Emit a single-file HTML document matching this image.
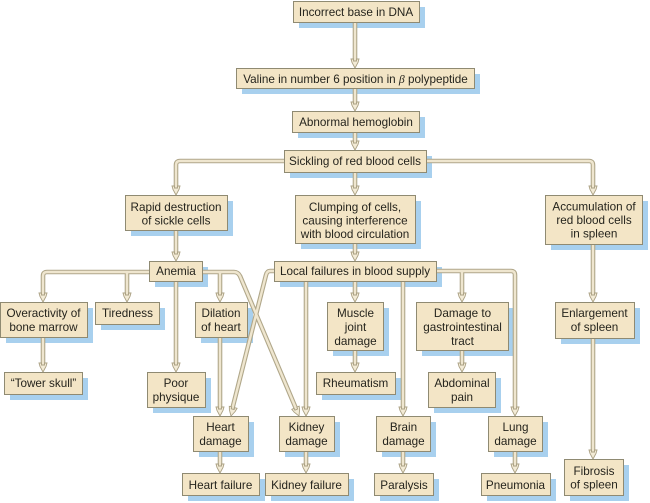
<!DOCTYPE html>
<html>
<head>
<meta charset="utf-8">
<style>
html,body{margin:0;padding:0;background:#fff;width:650px;height:503px;overflow:hidden}
svg{display:block;filter:blur(0.35px)}
text{font-family:"Liberation Sans",sans-serif;font-size:11.7px;fill:#25241d;text-anchor:middle}
.s rect{fill:#a8d0ee}
.b rect{fill:#f3e5c6;stroke:#8f8a72;stroke-width:1}
</style>
</head>
<body>
<svg width="650" height="503" viewBox="0 0 650 503" xmlns="http://www.w3.org/2000/svg">
<defs>
<path id="c" d="M355 22V62M355 88V104M355 132V143M355 172V188M355 243V254
M284 161H180Q176 161 176 165V188
M426 161H589Q593 161 593 165V188
M176 230V254
M149 272H47Q43 272 43 276V295
M127 272V295
M176 281V365
M202 272H220V295
M202 272H234Q238 272 240 276L297 411
M274 271H270Q267 271 266 275L232 410
M306 281V410
M306 451V466
M220 337V410
M220 451V466
M43 337V365
M355 281V295
M355 350V365
M403 281V410
M403 451V466
M436 271H462V295
M462 350V365
M436 271H511Q515 271 515 275V410
M515 451V466
M593 244V295
M593 338V452"/>
<path id="a" d="M-1.500 -9H-4L-3 -5.500L0 0L3 -5.500L4 -9H1.500V-7H-1.500Z"/>
</defs>
<g class="s">
<rect x="299" y="7" width="126" height="21"/>
<rect x="242" y="74" width="238" height="20"/>
<rect x="298" y="117" width="127" height="21"/>
<rect x="290" y="156" width="142" height="22"/>
<rect x="131" y="201" width="102" height="35"/>
<rect x="301" y="201" width="120" height="48"/>
<rect x="551" y="201" width="97" height="49"/>
<rect x="155" y="267" width="53" height="20"/>
<rect x="280" y="267" width="162" height="20"/>
<rect x="6" y="308" width="87" height="35"/>
<rect x="101" y="308" width="64" height="22"/>
<rect x="201" y="308" width="52" height="35"/>
<rect x="10" y="378" width="78" height="22"/>
<rect x="153" y="378" width="58" height="35"/>
<rect x="199" y="422" width="55" height="35"/>
<rect x="285" y="422" width="55" height="35"/>
<rect x="188" y="479" width="77" height="22"/>
<rect x="271" y="479" width="83" height="22"/>
<rect x="333" y="308" width="56" height="48"/>
<rect x="422" y="308" width="92" height="48"/>
<rect x="322" y="378" width="79" height="22"/>
<rect x="434" y="378" width="67" height="35"/>
<rect x="382" y="422" width="54" height="35"/>
<rect x="494" y="422" width="54" height="35"/>
<rect x="380" y="479" width="59" height="22"/>
<rect x="487" y="479" width="69" height="22"/>
<rect x="561" y="308" width="79" height="36"/>
<rect x="570" y="465" width="59" height="36"/>
</g>
<g fill="none">
<use href="#c" stroke="#b0a78a" stroke-width="4.600"/>
<use href="#c" stroke="#efe6cf" stroke-width="2.400"/>
</g>
<g fill="#f3ebd6" stroke="#aaa083" stroke-width="0.900">
<use href="#a" transform="translate(355 68)"/>
<use href="#a" transform="translate(355 111)"/>
<use href="#a" transform="translate(355 150)"/>
<use href="#a" transform="translate(355 195)"/>
<use href="#a" transform="translate(355 261)"/>
<use href="#a" transform="translate(176 195)"/>
<use href="#a" transform="translate(593 195)"/>
<use href="#a" transform="translate(176 261)"/>
<use href="#a" transform="translate(43 302)"/>
<use href="#a" transform="translate(127 302)"/>
<use href="#a" transform="translate(176 372)"/>
<use href="#a" transform="translate(220 302)"/>
<use href="#a" transform="translate(299 416) rotate(-23)"/>
<use href="#a" transform="translate(231 416) rotate(14)"/>
<use href="#a" transform="translate(306 416)"/>
<use href="#a" transform="translate(306 473)"/>
<use href="#a" transform="translate(220 416)"/>
<use href="#a" transform="translate(220 473)"/>
<use href="#a" transform="translate(43 372)"/>
<use href="#a" transform="translate(355 302)"/>
<use href="#a" transform="translate(355 372)"/>
<use href="#a" transform="translate(403 416)"/>
<use href="#a" transform="translate(403 473)"/>
<use href="#a" transform="translate(462 302)"/>
<use href="#a" transform="translate(462 372)"/>
<use href="#a" transform="translate(515 416)"/>
<use href="#a" transform="translate(515 473)"/>
<use href="#a" transform="translate(593 302)"/>
<use href="#a" transform="translate(593 459)"/>
</g>
<g class="b">
<rect x="293.500" y="1.500" width="126" height="21"/>
<rect x="236.500" y="68.500" width="238" height="20"/>
<rect x="292.500" y="111.500" width="127" height="21"/>
<rect x="284.500" y="150.500" width="142" height="22"/>
<rect x="125.500" y="195.500" width="102" height="35"/>
<rect x="295.500" y="195.500" width="120" height="48"/>
<rect x="545.500" y="195.500" width="97" height="49"/>
<rect x="149.500" y="261.500" width="53" height="20"/>
<rect x="274.500" y="261.500" width="162" height="20"/>
<rect x="0.500" y="302.500" width="87" height="35"/>
<rect x="95.500" y="302.500" width="64" height="22"/>
<rect x="195.500" y="302.500" width="52" height="35"/>
<rect x="4.500" y="372.500" width="78" height="22"/>
<rect x="147.500" y="372.500" width="58" height="35"/>
<rect x="193.500" y="416.500" width="55" height="35"/>
<rect x="279.500" y="416.500" width="55" height="35"/>
<rect x="182.500" y="473.500" width="77" height="22"/>
<rect x="265.500" y="473.500" width="83" height="22"/>
<rect x="327.500" y="302.500" width="56" height="48"/>
<rect x="416.500" y="302.500" width="92" height="48"/>
<rect x="316.500" y="372.500" width="79" height="22"/>
<rect x="428.500" y="372.500" width="67" height="35"/>
<rect x="376.500" y="416.500" width="54" height="35"/>
<rect x="488.500" y="416.500" width="54" height="35"/>
<rect x="374.500" y="473.500" width="59" height="22"/>
<rect x="481.500" y="473.500" width="69" height="22"/>
<rect x="555.500" y="302.500" width="79" height="36"/>
<rect x="564.500" y="459.500" width="59" height="36"/>
</g>
<g>
<text x="356" y="16">Incorrect base in DNA</text>
<text x="355.500" y="83">Valine in number 6 position in <tspan font-family="Liberation Serif" font-style="italic">β</tspan> polypeptide</text>
<text x="356" y="126">Abnormal hemoglobin</text>
<text x="355" y="165">Sickling of red blood cells</text>
<text x="176" y="211">Rapid destruction</text>
<text x="176" y="224.500">of sickle cells</text>
<text x="355" y="211">Clumping of cells,</text>
<text x="355" y="224.500">causing interference</text>
<text x="355" y="238">with blood circulation</text>
<text x="594" y="210.500">Accumulation of</text>
<text x="594" y="224">red blood cells</text>
<text x="594" y="237.500">in spleen</text>
<text x="176" y="275">Anemia</text>
<text x="355" y="275">Local failures in blood supply</text>
<text x="43.500" y="317">Overactivity of</text>
<text x="43.500" y="331">bone marrow</text>
<text x="127.500" y="317">Tiredness</text>
<text x="221" y="317">Dilation</text>
<text x="221" y="331">of heart</text>
<text x="43.500" y="387">“Tower skull”</text>
<text x="176" y="387">Poor</text>
<text x="176" y="401">physique</text>
<text x="220.500" y="431">Heart</text>
<text x="220.500" y="445">damage</text>
<text x="306.500" y="431">Kidney</text>
<text x="306.500" y="445">damage</text>
<text x="220.500" y="489">Heart failure</text>
<text x="306.500" y="489">Kidney failure</text>
<text x="355.500" y="317">Muscle</text>
<text x="355.500" y="331">joint</text>
<text x="355.500" y="345">damage</text>
<text x="462.500" y="317">Damage to</text>
<text x="462.500" y="331">gastrointestinal</text>
<text x="462.500" y="345">tract</text>
<text x="355.500" y="387">Rheumatism</text>
<text x="462" y="387">Abdominal</text>
<text x="462" y="401">pain</text>
<text x="403.500" y="431">Brain</text>
<text x="403.500" y="445">damage</text>
<text x="515.500" y="431">Lung</text>
<text x="515.500" y="445">damage</text>
<text x="404" y="489">Paralysis</text>
<text x="515.500" y="489">Pneumonia</text>
<text x="594.500" y="317">Enlargement</text>
<text x="594.500" y="331">of spleen</text>
<text x="594" y="475">Fibrosis</text>
<text x="594" y="488.500">of spleen</text>
</g>
</svg>
</body>
</html>
